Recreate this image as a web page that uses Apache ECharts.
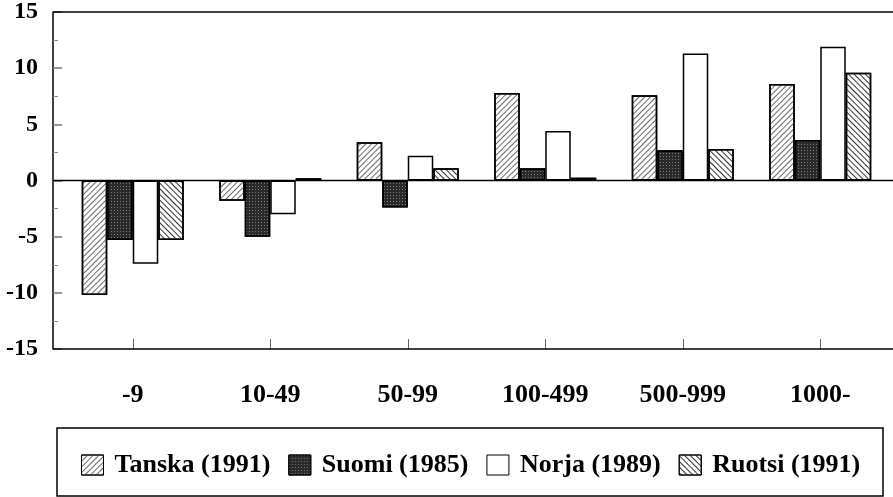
<!DOCTYPE html>
<html>
<head>
<meta charset="utf-8">
<script src="https://cdn.jsdelivr.net/npm/echarts@6/dist/echarts.min.js"></script>
<style>
html,body{margin:0;padding:0;background:#fff;}
#c{width:893px;height:497px;}
</style>
</head>
<body>
<div id="c"></div>
<script>
// ---- data ----
const categories = ['-9', '10-49', '50-99', '100-499', '500-999', '1000-'];
const seriesNames = ['Tanska (1991)', 'Suomi (1985)', 'Norja (1989)', 'Ruotsi (1991)'];
const tanska = [-10.2, -1.8, 3.4, 7.8, 7.6, 8.6];
const suomi  = [-5.3, -5.0, -2.4, 1.1, 2.7, 3.6];
const norja  = [-7.4, -3.0, 2.2, 4.4, 11.3, 11.9];
const ruotsi = [-5.3, 0.2, 1.1, 0.25, 2.8, 9.6];
const yTicks = { min: -15, max: 15, step: 5 };

const FONT = '"Liberation Serif", "Times New Roman", serif';

const styles = [
  { color: '#fff', borderColor: '#000', borderWidth: 1.5,
    decal: { symbol: 'rect', symbolSize: 1, color: '#6a6a6a', dashArrayX: [1, 0], dashArrayY: [1, 3], rotation: -Math.PI / 4 } },
  { color: '#2a2a2a', borderColor: '#000', borderWidth: 1.5,
    decal: { symbol: 'rect', symbolSize: 1, color: '#7a7a7a', dashArrayX: [1, 2], dashArrayY: [1, 2], rotation: 0 } },
  { color: '#fff', borderColor: '#000', borderWidth: 1.5 },
  { color: '#fff', borderColor: '#000', borderWidth: 1.5,
    decal: { symbol: 'rect', symbolSize: 1, color: '#333', dashArrayX: [1, 0], dashArrayY: [1, 3], rotation: Math.PI / 4 } }
];
const values = [tanska, suomi, norja, ruotsi];

const chart = echarts.init(document.getElementById('c'), null, { renderer: 'canvas' });

const option = {
  animation: false,
  backgroundColor: '#fff',
  grid: { left: 64, right: 4, top: 8, bottom: 148, containLabel: false },
  legend: {
    data: seriesNames,
    left: 81, top: 452,
    padding: 0,
    icon: 'rect',
    itemWidth: 22, itemHeight: 20, itemGap: 18,
    selectedMode: false,
    itemStyle: { borderColor: '#000', borderWidth: 1 },
    textStyle: { fontFamily: FONT, fontWeight: 'bold', fontSize: 26, color: '#000', padding: [0, 0, 0, 6] }
  },
  xAxis: {
    type: 'category',
    data: categories,
    axisLine: { show: false, onZero: false },
    axisTick: { show: true, inside: true, alignWithLabel: true, length: 10, lineStyle: { color: '#666', width: 1 } },
    axisLabel: { fontFamily: FONT, fontWeight: 'bold', fontSize: 26, color: '#000', margin: 33, interval: 0 },
    splitLine: { show: false }
  },
  yAxis: {
    type: 'value',
    min: yTicks.min, max: yTicks.max, interval: yTicks.step,
    offset: 11,
    axisLine: { show: true, lineStyle: { color: '#000', width: 1.5 } },
    axisTick: { show: true, inside: true, length: 9, lineStyle: { color: '#777', width: 1.5 } },
    minorTick: { show: true, splitNumber: 2, length: 5, lineStyle: { color: '#888', width: 1 } },
    splitLine: { show: false },
    axisLabel: { fontFamily: FONT, fontWeight: 'bold', fontSize: 24, color: '#000', margin: 15 }
  },
  series: seriesNames.map((name, i) => ({
    name: name,
    type: 'bar',
    data: values[i],
    barWidth: 25.5,
    barGap: '0%',
    itemStyle: styles[i]
  }))
};
chart.setOption(option);

// frame lines (top, zero, bottom) positioned from the value axis scale
const xL = 53, xR = 893;
const yTop = chart.convertToPixel({ yAxisIndex: 0 }, yTicks.max);
const yZero = chart.convertToPixel({ yAxisIndex: 0 }, 0);
const yBot = chart.convertToPixel({ yAxisIndex: 0 }, yTicks.min);
function hline(y) {
  return { type: 'line', shape: { x1: xL, y1: y, x2: xR, y2: y }, style: { stroke: '#000', lineWidth: 1.5 }, z: 10 };
}
chart.setOption({
  graphic: [
    hline(yTop), hline(yZero), hline(yBot),
    { type: 'rect', shape: { x: 57, y: 428, width: 826, height: 68 }, style: { fill: 'none', stroke: '#000', lineWidth: 1.5 }, z: 10 }
  ]
});
</script>
</body>
</html>
